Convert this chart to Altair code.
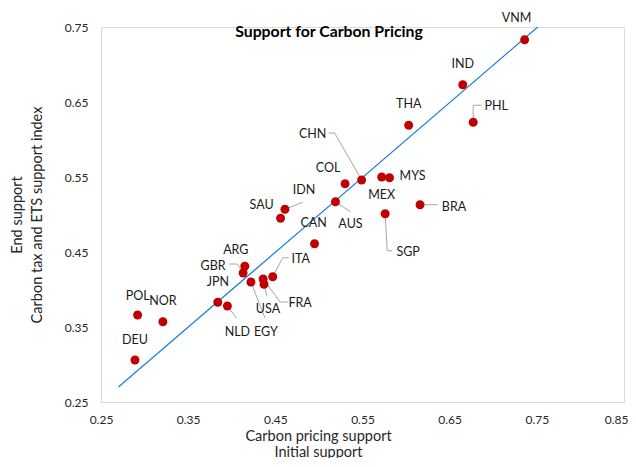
import altair as alt
import pandas as pd

# ---------------- data ----------------
countries = ["VNM", "IND", "PHL", "THA", "CHN", "COL", "MYS", "MEX", "AUS", "BRA",
             "SGP", "IDN", "SAU", "CAN", "ARG", "GBR", "JPN", "NLD", "EGY", "USA",
             "FRA", "ITA", "POL", "NOR", "DEU"]
initial_support = [0.736, 0.665, 0.677, 0.603, 0.549, 0.530, 0.581, 0.572, 0.519, 0.616,
                   0.576, 0.461, 0.456, 0.495, 0.415, 0.413, 0.384, 0.395, 0.422, 0.437,
                   0.436, 0.447, 0.292, 0.321, 0.289]
end_support = [0.733, 0.673, 0.623, 0.619, 0.546, 0.541, 0.549, 0.550, 0.517, 0.513,
               0.501, 0.507, 0.495, 0.461, 0.431, 0.422, 0.383, 0.378, 0.410, 0.407,
               0.414, 0.417, 0.366, 0.357, 0.306]

trend_x = [0.27, 0.751]
trend_y = [0.27, 0.75]

x_ticks = [0.25, 0.35, 0.45, 0.55, 0.65, 0.75, 0.85]
y_ticks = [0.25, 0.35, 0.45, 0.55, 0.65, 0.75]

# ---------------- layout / styling ----------------
W, H = 523, 375
XD = [0.25, 0.85]
YD = [0.25, 0.75]
SX = (XD[1] - XD[0]) / W
SY = (YD[1] - YD[0]) / H
FONT = "Lato"
NB = "\u00a0"

# label offsets in pixels (dx, dy) from each dot
label_offsets = {
    "VNM": (-8, -22), "IND": (0, -21), "PHL": (23, -16), "THA": (0, -21),
    "CHN": (-49, -46), "COL": (-17, -16), "MYS": (23, -2), "MEX": (0, 18),
    "AUS": (15, 22), "BRA": (34, 2), "SGP": (23, 38), "IDN": (19, -19),
    "SAU": (-19, -13), "CAN": (-1, -21), "ARG": (-9, -16), "GBR": (-30, -7),
    "JPN": (0, -20), "NLD": (10, 26), "EGY": (15, 50), "USA": (4, 25),
    "FRA": (37, 24), "ITA": (28, -18), "POL": (0, -19), "NOR": (0, -21),
    "DEU": (0, -20),
}
# leader line paths in pixel offsets from each dot
leaders = {
    "PHL": [(0, 0), (0, -17), (8, -17)],
    "CHN": [(0, 0), (-27, -47), (-33, -47)],
    "AUS": [(0, 0), (15, 10)],
    "BRA": [(0, 0), (18, 0)],
    "SGP": [(0, 0), (2, 37), (7, 37)],
    "IDN": [(0, 0), (18, -7)],
    "GBR": [(0, 0), (-6, -9), (-14, -9)],
    "ITA": [(0, 0), (10, -19), (16, -19)],
    "USA": [(0, 0), (3, 12)],
    "FRA": [(0, 0), (17, 23), (25, 23)],
    "NLD": [(0, 0), (9, 12)],
    "EGY": [(0, 0), (14, 36)],
}

pts = pd.DataFrame({"country": countries, "x": initial_support, "y": end_support})
pts["lx"] = [x + label_offsets[c][0] * SX for c, x in zip(countries, initial_support)]
pts["ly"] = [y - label_offsets[c][1] * SY for c, y in zip(countries, end_support)]

rows = []
for c, path in leaders.items():
    i = countries.index(c)
    for k, (ox, oy) in enumerate(path):
        rows.append({"country": c, "k": k,
                     "x": initial_support[i] + ox * SX,
                     "y": end_support[i] - oy * SY})
lead = pd.DataFrame(rows)

trend = pd.DataFrame({"x": trend_x, "y": trend_y})

xs = alt.Scale(domain=XD, nice=False, zero=False)
ys = alt.Scale(domain=YD, nice=False, zero=False)

x_axis = alt.Axis(values=x_ticks, format=".2f", title=["Carbon pricing support", "Initial support"],
                  grid=False, ticks=False, domainColor="#d9d9d9", labelPadding=12,
                  labelFlush=False,
                  labelAlign=alt.ExprRef(expr="datum.value > 0.8 ? 'right' : 'center'"),
                  labelOffset=alt.ExprRef(expr="datum.value > 0.8 ? 4 : 0"),
                  labelFont=FONT, labelFontSize=12, labelColor="#262626",
                  titleFont=FONT, titleFontSize=14.5, titleFontWeight="normal",
                  titleColor="#262626", titlePadding=4, titleLineHeight=16,
                  titleX=217, titleAlign="center")
y_axis = alt.Axis(values=y_ticks, format=".2f",
                  title=["End support", NB * 5 + "Carbon tax and ETS support index"],
                  grid=False, ticks=False, domainColor="#d9d9d9", labelPadding=13,
                  labelFlush=False,
                  labelFont=FONT, labelFontSize=12, labelColor="#262626",
                  titleFont=FONT, titleFontSize=14.5, titleFontWeight="normal",
                  titleColor="#262626", titlePadding=20, titleLineHeight=20)

line = alt.Chart(trend).mark_line(color="#1a7fd6", strokeWidth=1.2).encode(
    x=alt.X("x:Q", scale=xs, axis=x_axis),
    y=alt.Y("y:Q", scale=ys, axis=y_axis),
)

leader_lines = alt.Chart(lead).mark_line(color="#a6a6a6", strokeWidth=1).encode(
    x=alt.X("x:Q", scale=xs),
    y=alt.Y("y:Q", scale=ys),
    detail="country:N",
    order="k:Q",
)

dots = alt.Chart(pts).mark_point(filled=True, color="#c00000", size=80, opacity=1).encode(
    x=alt.X("x:Q", scale=xs),
    y=alt.Y("y:Q", scale=ys),
)

labels = alt.Chart(pts).mark_text(font=FONT, fontSize=12.5, color="#1a1a1a",
                                  align="center", baseline="middle").encode(
    x=alt.X("lx:Q", scale=xs),
    y=alt.Y("ly:Q", scale=ys),
    text="country:N",
)

title = alt.Chart(pd.DataFrame({"t": ["Support for Carbon Pricing"]})).mark_text(
    font=FONT, fontSize=15.8, fontWeight="bold", color="#000000",
    align="center", baseline="middle").encode(
    x=alt.value(228), y=alt.value(5), text="t:N")

chart = alt.layer(line, leader_lines, dots, labels, title).properties(
    width=W, height=H,
    autosize=alt.AutoSizeParams(type="none"),
    padding={"left": 93, "top": 19, "right": 4, "bottom": 56},
).configure_view(stroke=None).configure(background="white")

chart.save("out.html", embed_options={"renderer": "svg", "actions": False})
